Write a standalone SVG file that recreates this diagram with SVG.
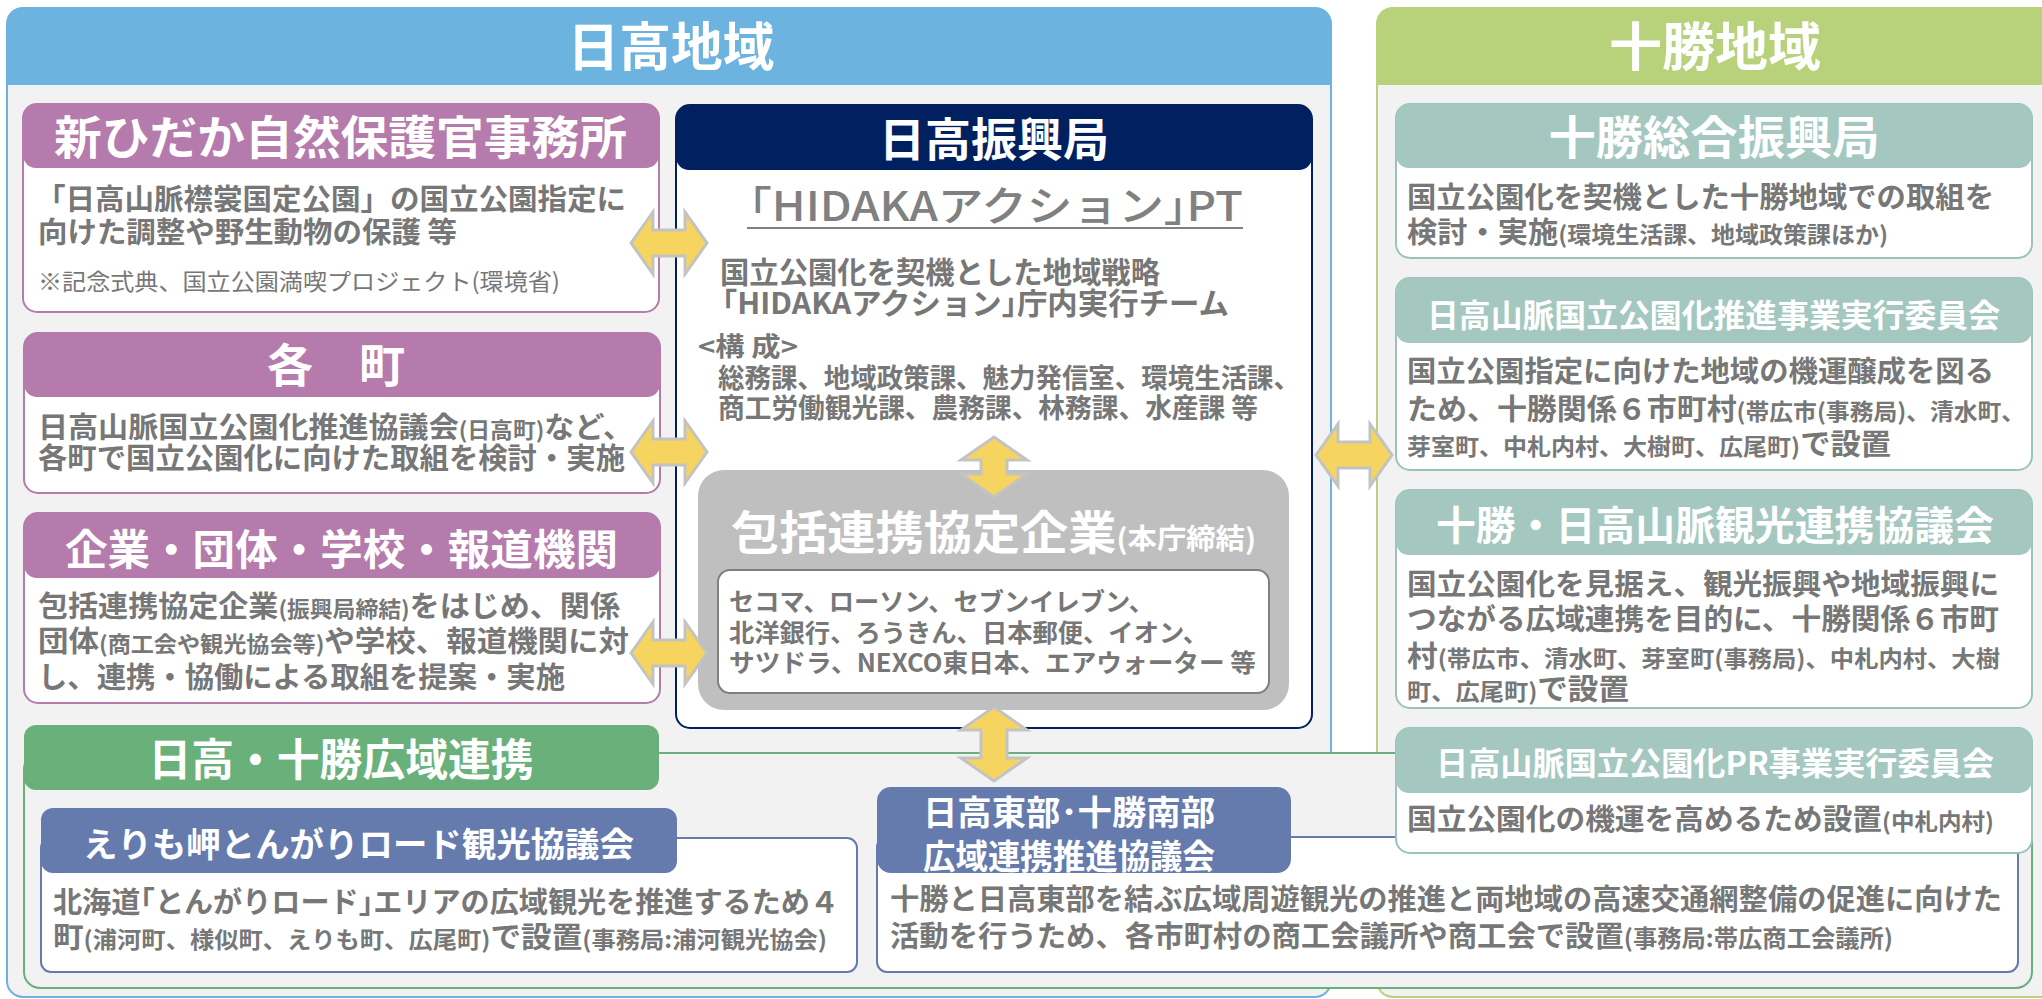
<svg xmlns="http://www.w3.org/2000/svg" width="2042" height="999" viewBox="0 0 2042 999">
<defs>
<style>
text{font-family:'Noto Sans CJK JP','Noto Sans CJK SC',sans-serif;font-weight:700;}
.hw{fill:#ffffff}
.bd{fill:#777777}
.pb{fill:#ffffff;stroke:#B57BAC;stroke-width:2}
.ph{fill:#B57BAC}
.tb{fill:#ffffff;stroke:#9CC3B9;stroke-width:2}
.th{fill:#A4C8BF}
.sb{fill:#ffffff;stroke:#657BAE;stroke-width:2}
.sh{fill:#657BAE}
.arrow{fill:#F5D55F;stroke:#C3C3C3;stroke-width:3;stroke-linejoin:miter}
</style>
</defs>
<rect width="2042" height="999" fill="#ffffff"/>

<g id="panel-hidaka">
<rect x="7" y="8" width="1324" height="989" rx="16" fill="#F2F2F2" stroke="#6DB3E0" stroke-width="2"/>
<path d="M7,85 V24 Q7,8 23,8 H1315 Q1331,8 1331,24 V85 Z" fill="#6DB3E0"/>
<text class="hw" x="671" y="66" font-size="52" text-anchor="middle" textLength="207" lengthAdjust="spacingAndGlyphs">日高地域</text>
</g>

<g id="panel-tokachi">
<rect x="1377" y="8" width="700" height="989" rx="16" fill="#F2F2F2" stroke="#B8D27B" stroke-width="2"/>
<path d="M1377,85 V24 Q1377,8 1393,8 H2060 V85 Z" fill="#B8D27B"/>
<text class="hw" x="1715" y="66" font-size="52" text-anchor="middle" textLength="212" lengthAdjust="spacingAndGlyphs">十勝地域</text>
</g>

<g id="shinhidaka">
<rect class="pb" x="23" y="104" width="636" height="208" rx="14"/>
<rect class="ph" x="23" y="104" width="636" height="64" rx="13"/>
<text class="hw" x="54" y="154" font-size="46" textLength="573" lengthAdjust="spacingAndGlyphs">新ひだか自然保護官事務所</text>
<text class="bd" x="36" y="210" font-size="29" textLength="590" lengthAdjust="spacingAndGlyphs">「日高山脈襟裳国定公園」の国立公園指定に</text>
<text class="bd" x="38" y="243" font-size="29" textLength="419" lengthAdjust="spacingAndGlyphs">向けた調整や野生動物の保護 等</text>
<text class="bd" x="38" y="290" font-size="23" style="font-weight:400" textLength="522" lengthAdjust="spacingAndGlyphs">※記念式典、国立公園満喫プロジェクト(環境省)</text>
</g>

<g id="kakucho">
<rect class="pb" x="24" y="333" width="636" height="160" rx="14"/>
<rect class="ph" x="24" y="333" width="636" height="64" rx="13"/>
<text class="hw" x="336" y="382" font-size="46" text-anchor="middle">各　町</text>
<text class="bd" x="38" y="438" font-size="29" textLength="595" lengthAdjust="spacingAndGlyphs">日高山脈国立公園化推進協議会<tspan font-size="22">(日高町)</tspan>など、</text>
<text class="bd" x="38" y="469" font-size="29" textLength="587" lengthAdjust="spacingAndGlyphs">各町で国立公園化に向けた取組を検討・実施</text>
</g>

<g id="kigyo">
<rect class="pb" x="24" y="513" width="636" height="190" rx="14"/>
<rect class="ph" x="24" y="513" width="636" height="65" rx="13"/>
<text class="hw" x="65" y="565" font-size="42" textLength="553" lengthAdjust="spacingAndGlyphs">企業・団体・学校・報道機関</text>
<text class="bd" x="38" y="617" font-size="29" textLength="582" lengthAdjust="spacingAndGlyphs">包括連携協定企業<tspan font-size="22">(振興局締結)</tspan>をはじめ、関係</text>
<text class="bd" x="38" y="652" font-size="29" textLength="591" lengthAdjust="spacingAndGlyphs">団体<tspan font-size="22">(商工会や観光協会等)</tspan>や学校、報道機関に対</text>
<text class="bd" x="38" y="688" font-size="29" textLength="527" lengthAdjust="spacingAndGlyphs">し、連携・協働による取組を提案・実施</text>
</g>

<g id="hidaka-shinkokyoku">
<rect x="676" y="105" width="636" height="623" rx="14" fill="#ffffff" stroke="#002060" stroke-width="2"/>
<rect x="676" y="105" width="636" height="65" rx="13" fill="#002060"/>
<text class="hw" x="994" y="156" font-size="46" text-anchor="middle" textLength="230" lengthAdjust="spacingAndGlyphs">日高振興局</text>
<text x="749" y="221" font-size="41" style="font-weight:500" fill="#808080" textLength="494" lengthAdjust="spacingAndGlyphs">｢HIDAKAアクション｣PT</text>
<line x1="747" y1="228" x2="1243" y2="228" stroke="#808080" stroke-width="2"/>
<text class="bd" x="720" y="283" font-size="30" textLength="440" lengthAdjust="spacingAndGlyphs">国立公園化を契機とした地域戦略</text>
<text class="bd" x="722" y="314" font-size="30" textLength="507" lengthAdjust="spacingAndGlyphs">｢HIDAKAアクション｣庁内実行チーム</text>
<text class="bd" x="698" y="356" font-size="26" textLength="100" lengthAdjust="spacingAndGlyphs">&lt;構 成&gt;</text>
<text class="bd" x="718" y="388" font-size="27" textLength="582" lengthAdjust="spacingAndGlyphs">総務課、地域政策課、魅力発信室、環境生活課、</text>
<text class="bd" x="718" y="418" font-size="27" textLength="540" lengthAdjust="spacingAndGlyphs">商工労働観光課、農務課、林務課、水産課 等</text>
</g>

<g id="hokatsu">
<rect x="698" y="470" width="591" height="240" rx="26" fill="#BFBFBF"/>
<text class="hw" x="731" y="549" font-size="46" textLength="525" lengthAdjust="spacingAndGlyphs">包括連携協定企業<tspan font-size="28">(本庁締結)</tspan></text>
<rect x="718" y="570" width="551" height="123" rx="12" fill="#ffffff" stroke="#7F7F7F" stroke-width="2"/>
<text class="bd" x="729" y="611" font-size="25" textLength="425" lengthAdjust="spacingAndGlyphs">セコマ、ローソン、セブンイレブン、</text>
<text class="bd" x="729" y="642" font-size="25" textLength="479" lengthAdjust="spacingAndGlyphs">北洋銀行、ろうきん、日本郵便、イオン、</text>
<text class="bd" x="729" y="672" font-size="25" textLength="527" lengthAdjust="spacingAndGlyphs">サツドラ、NEXCO東日本、エアウォーター 等</text>
</g>

<g id="koiki">
<rect x="24" y="753" width="2008" height="235" rx="16" fill="#F2F2F2" stroke="#69B07A" stroke-width="2"/>
<rect x="24" y="725" width="635" height="65" rx="12" fill="#69B07A"/>
<text class="hw" x="341" y="776" font-size="44" text-anchor="middle" textLength="385" lengthAdjust="spacingAndGlyphs">日高・十勝広域連携</text>
</g>

<g id="erimo">
<rect class="sb" x="41" y="838" width="816" height="134" rx="10"/>
<rect class="sh" x="41" y="808" width="636" height="65" rx="12"/>
<text class="hw" x="83" y="857" font-size="34" textLength="551" lengthAdjust="spacingAndGlyphs">えりも岬とんがりロード観光協議会</text>
<text class="bd" x="53" y="913" font-size="29" textLength="786" lengthAdjust="spacingAndGlyphs">北海道｢とんがりロード｣エリアの広域観光を推進するため４</text>
<text class="bd" x="53" y="948" font-size="29" textLength="774" lengthAdjust="spacingAndGlyphs">町<tspan font-size="23">(浦河町、様似町、えりも町、広尾町)</tspan>で設置<tspan font-size="23">(事務局:浦河観光協会)</tspan></text>
</g>

<g id="hidaka-tobu">
<rect class="sb" x="877" y="837" width="1141" height="135" rx="10"/>
<rect class="sh" x="877" y="787" width="414" height="86" rx="14"/>
<text class="hw" x="923" y="825" font-size="34" textLength="292" lengthAdjust="spacingAndGlyphs">日高東部･十勝南部</text>
<text class="hw" x="923" y="869" font-size="34" textLength="292" lengthAdjust="spacingAndGlyphs">広域連携推進協議会</text>
<text class="bd" x="890" y="910" font-size="29" textLength="1112" lengthAdjust="spacingAndGlyphs">十勝と日高東部を結ぶ広域周遊観光の推進と両地域の高速交通網整備の促進に向けた</text>
<text class="bd" x="890" y="947" font-size="29" textLength="1003" lengthAdjust="spacingAndGlyphs">活動を行うため、各市町村の商工会議所や商工会で設置<tspan font-size="24">(事務局:帯広商工会議所)</tspan></text>
</g>

<g id="tokachi-sogo">
<rect class="tb" x="1396" y="104" width="636" height="154" rx="14"/>
<rect class="th" x="1396" y="104" width="636" height="64" rx="13"/>
<text class="hw" x="1714" y="154" font-size="46" text-anchor="middle" textLength="331" lengthAdjust="spacingAndGlyphs">十勝総合振興局</text>
<text class="bd" x="1407" y="208" font-size="29" textLength="587" lengthAdjust="spacingAndGlyphs">国立公園化を契機とした十勝地域での取組を</text>
<text class="bd" x="1407" y="243" font-size="29" textLength="481" lengthAdjust="spacingAndGlyphs">検討・実施<tspan font-size="23">(環境生活課、地域政策課ほか)</tspan></text>
</g>

<g id="suishin-iinkai">
<rect class="tb" x="1396" y="278" width="636" height="192" rx="14"/>
<rect class="th" x="1396" y="278" width="636" height="65" rx="13"/>
<text class="hw" x="1427" y="327" font-size="32" textLength="573" lengthAdjust="spacingAndGlyphs">日高山脈国立公園化推進事業実行委員会</text>
<text class="bd" x="1407" y="382" font-size="29" textLength="587" lengthAdjust="spacingAndGlyphs">国立公園指定に向けた地域の機運醸成を図る</text>
<text class="bd" x="1407" y="420" font-size="29" textLength="618" lengthAdjust="spacingAndGlyphs">ため、十勝関係６市町村<tspan font-size="23">(帯広市(事務局)、清水町、</tspan></text>
<text class="bd" x="1407" y="455" font-size="29" textLength="484" lengthAdjust="spacingAndGlyphs"><tspan font-size="23">芽室町、中札内村、大樹町、広尾町)</tspan>で設置</text>
</g>

<g id="kanko-renkei">
<rect class="tb" x="1396" y="490" width="636" height="218" rx="14"/>
<rect class="th" x="1396" y="490" width="636" height="65" rx="13"/>
<text class="hw" x="1436" y="540" font-size="40" textLength="558" lengthAdjust="spacingAndGlyphs">十勝・日高山脈観光連携協議会</text>
<text class="bd" x="1407" y="595" font-size="29" textLength="592" lengthAdjust="spacingAndGlyphs">国立公園化を見据え、観光振興や地域振興に</text>
<text class="bd" x="1407" y="630" font-size="29" textLength="592" lengthAdjust="spacingAndGlyphs">つながる広域連携を目的に、十勝関係６市町</text>
<text class="bd" x="1407" y="667" font-size="29" textLength="593" lengthAdjust="spacingAndGlyphs">村<tspan font-size="23">(帯広市、清水町、芽室町(事務局)、中札内村、大樹</tspan></text>
<text class="bd" x="1407" y="700" font-size="29" textLength="222" lengthAdjust="spacingAndGlyphs"><tspan font-size="23">町、広尾町)</tspan>で設置</text>
</g>

<g id="pr-iinkai">
<rect class="tb" x="1396" y="728" width="636" height="125" rx="14"/>
<rect class="th" x="1396" y="728" width="636" height="65" rx="13"/>
<text class="hw" x="1436" y="775" font-size="32" textLength="558" lengthAdjust="spacingAndGlyphs">日高山脈国立公園化PR事業実行委員会</text>
<text class="bd" x="1407" y="830" font-size="29" textLength="587" lengthAdjust="spacingAndGlyphs">国立公園化の機運を高めるため設置<tspan font-size="23">(中札内村)</tspan></text>
</g>

<g id="connectors">
<polygon class="arrow" points="631,243 653,212 653,230 685,230 685,212 707,243 685,274 685,256 653,256 653,274"/>
<polygon class="arrow" points="631,452 653,421 653,439 685,439 685,421 707,452 685,483 685,465 653,465 653,483"/>
<polygon class="arrow" points="631,653 653,622 653,640 685,640 685,622 707,653 685,684 685,666 653,666 653,684"/>
<polygon class="arrow" points="1316,455 1338,424 1338,442 1370,442 1370,424 1392,455 1370,486 1370,468 1338,468 1338,486"/>
<polygon class="arrow" points="994,437 1027,460 1007,460 1007,474 1027,474 994,497 961,474 981,474 981,460 961,460"/>
<polygon class="arrow" points="994,707 1027,730 1007,730 1007,758 1027,758 994,781 961,758 981,758 981,730 961,730"/>
</g>
</svg>
